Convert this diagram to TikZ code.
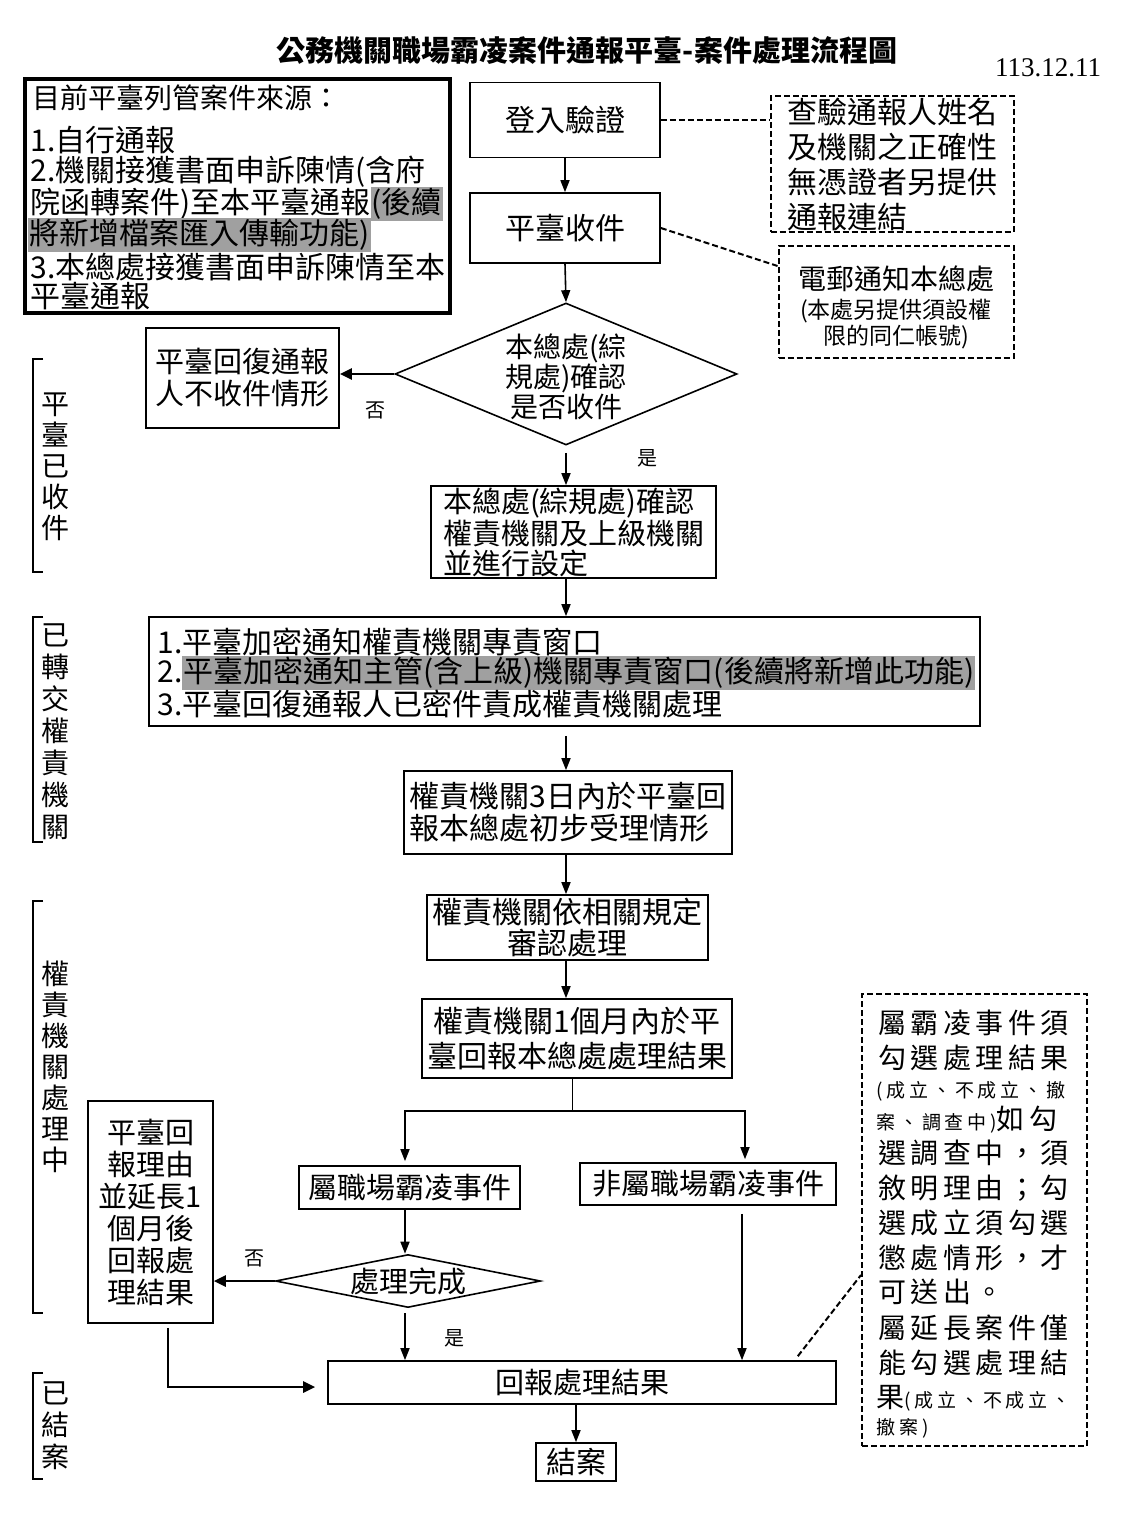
\documentclass[tikz,border=0pt]{standalone}
\usepackage{fontspec}
\setmainfont{Noto Sans CJK TC}
\newfontfamily\serifnum{Liberation Serif}
\usetikzlibrary{shapes.geometric,arrows.meta,calc}
\definecolor{hlgray}{HTML}{A0A0A0}
\newcommand\hlt[1]{{\setlength{\fboxsep}{0.6pt}\colorbox{hlgray}{#1}}}
\newcommand\fsz[2]{\fontsize{#1pt}{#2pt}\selectfont}
\newcommand\bigls{\fontsize{14pt}{16pt}\selectfont\addfontfeature{LetterSpace=16}}
\newcommand\smls{\fontsize{9.5pt}{11pt}\selectfont\addfontfeature{LetterSpace=20}}
\begin{document}
\begin{tikzpicture}[x=0.5pt,y=-0.5pt,
  box/.style={draw, line width=0.8pt, inner sep=0pt, font=\fsz{15}{16}},
  dbox/.style={draw, line width=1pt, inner sep=0pt, dash pattern=on 3pt off 1.5pt},
  dline/.style={line width=1pt, dash pattern=on 3pt off 1.5pt},
  arr/.style={-{Triangle[length=6pt,width=4.5pt]}, line width=0.8pt},
  tarr/.style={-{Triangle[length=6pt,width=5.5pt]}, line width=1.3pt},
  lbl/.style={font=\fsz{10}{11}, inner sep=0pt},
  side/.style={align=center, inner sep=0pt},
  txt/.style={anchor=west, inner sep=0pt},
  bracket/.style={line width=0.8pt}
]
\useasboundingbox (0,0) rectangle (1125,1518);

% title and date
\node[font=\bfseries\fsz{14.5}{15}] (title) at (587,50) {公務機關職場霸凌案件通報平臺-案件處理流程圖};
\node[font=\serifnum\fsz{13.5}{14}] (date) at (1048,68) {113.12.11};

% source box (top left)
\node[draw, line width=2pt, minimum width=212.5pt, minimum height=117pt, inner sep=0pt] (src) at (237.5,196) {};
\node[txt, font=\fsz{14}{15}] (s1) at (32,98) {目前平臺列管案件來源：};
\node[txt, font=\fsz{15}{16}] (s2) at (30,140) {1.自行通報};
\node[txt, font=\fsz{15}{16}] (s3) at (30,172) {2.機關接獲書面申訴陳情(含府};
\node[txt, font=\fsz{15}{16}] (s4) at (30,204) {院函轉案件)至本平臺通報\hlt{(後續}};
\node[txt, font=\fsz{15}{16}] (s5) at (28,235) {\hlt{將新增檔案匯入傳輸功能)}};
\node[txt, font=\fsz{15}{16}] (s6) at (30,267) {3.本總處接獲書面申訴陳情至本};
\node[txt, font=\fsz{15}{16}] (s7) at (30,296) {平臺通報};

% main column top
\node[box, minimum width=95pt, minimum height=37.5pt] (login) at (565,120) {登入驗證};
\node[box, minimum width=95pt, minimum height=35pt] (receive) at (565,228) {平臺收件};

% dashed notes (top right)
\node[dbox, minimum width=121.5pt, minimum height=68pt, align=left, font=\fsz{15}{17.5}] (check1) at (892,164) {查驗通報人姓名\\及機關之正確性\\無憑證者另提供\\通報連結};
\node[dbox, minimum width=117.5pt, minimum height=56pt] (email) at (896,302) {};
\node[font=\fsz{14}{15}, inner sep=0pt] (e1) at (896,279) {電郵通知本總處};
\node[font=\fsz{11.5}{12}, inner sep=0pt] (e2) at (896,311) {(本處另提供須設權};
\node[font=\fsz{11.5}{12}, inner sep=0pt] (e3) at (896,337) {限的同仁帳號)};

% decision 1
\node[draw, diamond, line width=0.8pt, minimum width=171pt, minimum height=71pt, inner sep=0pt] (d1) at (566,374) {};
\node[align=center, font=\fsz{14}{15}, inner sep=0pt] (d1t) at (566,377) {本總處(綜\\規處)確認\\是否收件};
\node[box, minimum width=96.5pt, minimum height=50pt, align=left, font=\fsz{14.5}{16}] (reject) at (242.5,378) {平臺回復通報\\人不收件情形};

\node[box, minimum width=142.5pt, minimum height=46pt, align=left, font=\fsz{14.5}{15}] (confirm) at (573.5,532) {本總處(綜規處)確認\\權責機關及上級機關\\並進行設定};

% big notification box
\node[box, minimum width=415.5pt, minimum height=54.5pt] (big) at (564.5,671.5) {};
\node[txt, font=\fsz{15}{16}] (b1) at (157,642) {1.平臺加密通知權責機關專責窗口};
\node[txt, font=\fsz{15}{16}] (b2) at (157,673) {2.\hlt{平臺加密通知主管(含上級)機關專責窗口(後續將新增此功能)}};
\node[txt, font=\fsz{15}{16}] (b3) at (157,704) {3.平臺回復通報人已密件責成權責機關處理};

\node[box, minimum width=164pt, minimum height=41.5pt, align=left, font=\fsz{15}{16}] (box3d) at (568,812.5) {權責機關3日內於平臺回\\報本總處初步受理情形};
\node[box, minimum width=140.5pt, minimum height=32.5pt, align=center, font=\fsz{15}{15.5}] (review) at (567.5,927.5) {權責機關依相關規定\\審認處理};
\node[box, minimum width=155pt, minimum height=39.5pt, align=center, font=\fsz{15}{17.5}] (month) at (577,1038.5) {權責機關1個月內於平\\臺回報本總處處理結果};

\node[box, minimum width=62.5pt, minimum height=111pt, align=center, font=\fsz{14.5}{16}] (extend) at (150.5,1212) {平臺回\\報理由\\並延長1\\個月後\\回報處\\理結果};
\node[box, minimum width=110.5pt, minimum height=21.5pt, font=\fsz{14.5}{15}] (bully) at (409.5,1187.5) {屬職場霸凌事件};
\node[box, minimum width=128pt, minimum height=21pt, font=\fsz{14.5}{15}] (nonbully) at (708,1184) {非屬職場霸凌事件};
\node[draw, diamond, line width=0.8pt, minimum width=132.5pt, minimum height=26.5pt, inner sep=0pt] (d2) at (408,1281) {};
\node[font=\fsz{14.5}{15}, inner sep=0pt] (d2t) at (408,1281) {處理完成};
\node[box, minimum width=254pt, minimum height=21.5pt, font=\fsz{14.5}{15}] (report) at (582,1382.5) {回報處理結果};
\node[box, minimum width=40pt, minimum height=19pt, font=\fsz{15}{16}] (close) at (576,1462) {結案};

% right dashed note
\node[dbox, minimum width=112.5pt, minimum height=226pt] (rightnote) at (974.5,1220) {};
\node[txt] (r1) at (878,1023) {\bigls 屬霸凌事件須};
\node[txt] (r2) at (878,1058) {\bigls 勾選處理結果};
\node[txt] (r3) at (876,1091) {\smls (成立、不成立、撤};
\node[txt] (r4) at (876,1120) {{\smls 案、調查中)}{\bigls 如勾}};
\node[txt] (r5) at (878,1153) {\bigls 選調查中，須};
\node[txt] (r6) at (878,1188) {\bigls 敘明理由；勾};
\node[txt] (r7) at (878,1223) {\bigls 選成立須勾選};
\node[txt] (r8) at (878,1258) {\bigls 懲處情形，才};
\node[txt] (r9) at (878,1292) {\bigls 可送出。};
\node[txt] (r10) at (878,1328) {\bigls 屬延長案件僅};
\node[txt] (r11) at (878,1363) {\bigls 能勾選處理結};
\node[txt] (r12) at (876,1398) {{\bigls 果}{\smls (成立、不成立、}};
\node[txt] (r13) at (876,1428) {\smls 撤案)};

% side brackets
\draw[bracket] (43,359) -- (33,359) -- (33,572) -- (43,572);
\node[side, font=\fsz{14}{15.5}] (L1) at (55,467) {平\\臺\\已\\收\\件};
\draw[bracket] (43,617) -- (33,617) -- (33,842) -- (43,842);
\node[side, font=\fsz{14}{16}] (L2) at (55,732) {已\\轉\\交\\權\\責\\機\\關};
\draw[bracket] (43,901) -- (33,901) -- (33,1313) -- (43,1313);
\node[side, font=\fsz{14}{15.5}] (L3) at (55,1067) {權\\責\\機\\關\\處\\理\\中};
\draw[bracket] (43,1373) -- (33,1373) -- (33,1479) -- (43,1479);
\node[side, font=\fsz{14}{16}] (L4) at (55,1426) {已\\結\\案};

% connectors
\draw[dline] (login.east) -- (login.east -| check1.west);
\draw[dline] (receive.east) -- ([yshift=-10.5pt]email.north west);
\draw[arr] (login.south) -- (receive.north);
\draw[arr] (receive.south) -- (d1.north);
\draw[tarr] (d1.west) -- (d1.west -| reject.east);
\node[lbl] (no1) at (375,410) {否};
\draw[arr, shorten <=3.5pt] (d1.south) -- (d1.south |- confirm.north);
\node[lbl] (yes1) at (647,458) {是};
\draw[arr] (d1.south |- confirm.south) -- (d1.south |- big.north);
\draw[arr, shorten <=4.5pt] (d1.south |- big.south) -- (d1.south |- box3d.north);
\draw[arr] (d1.south |- box3d.south) -- (d1.south |- review.north);
\draw[arr] (d1.south |- review.south) -- (d1.south |- month.north);

\coordinate (sp) at (572,1111);
\coordinate (spL) at (405,1111);
\coordinate (spR) at (745,1111);
\draw[line width=0.5pt] (sp |- month.south) -- (sp);
\draw[arr, shorten >=2pt] (sp) -- (spL) -- (spL |- bully.north);
\draw[arr, shorten >=1.5pt] (sp) -- (spR) -- (spR |- nonbully.north);
\draw[arr] (spL |- bully.south) -- (spL |- d2.north);
\draw[tarr] (d2.west) -- (d2.west -| extend.east);
\node[lbl] (no2) at (254,1258) {否};
\draw[arr, shorten <=2.5pt] (spL |- d2.south) -- (spL |- report.north);
\node[lbl] (yes2) at (454,1338) {是};
\draw[arr, shorten <=4pt] ([xshift=-1.5pt]spR |- nonbully.south) -- ([xshift=-1.5pt]spR |- report.north);
\coordinate (ex) at (168,1387);
\draw[tarr, shorten <=2pt, shorten >=6pt] (ex |- extend.south) -- (ex) -- (ex -| report.west);
\draw[arr] (close.north |- report.south) -- (close.north);
\draw[dline] ([xshift=-19.5pt,yshift=2pt]report.north east) -- ([yshift=-27.5pt]rightnote.west);
\end{tikzpicture}
\end{document}
